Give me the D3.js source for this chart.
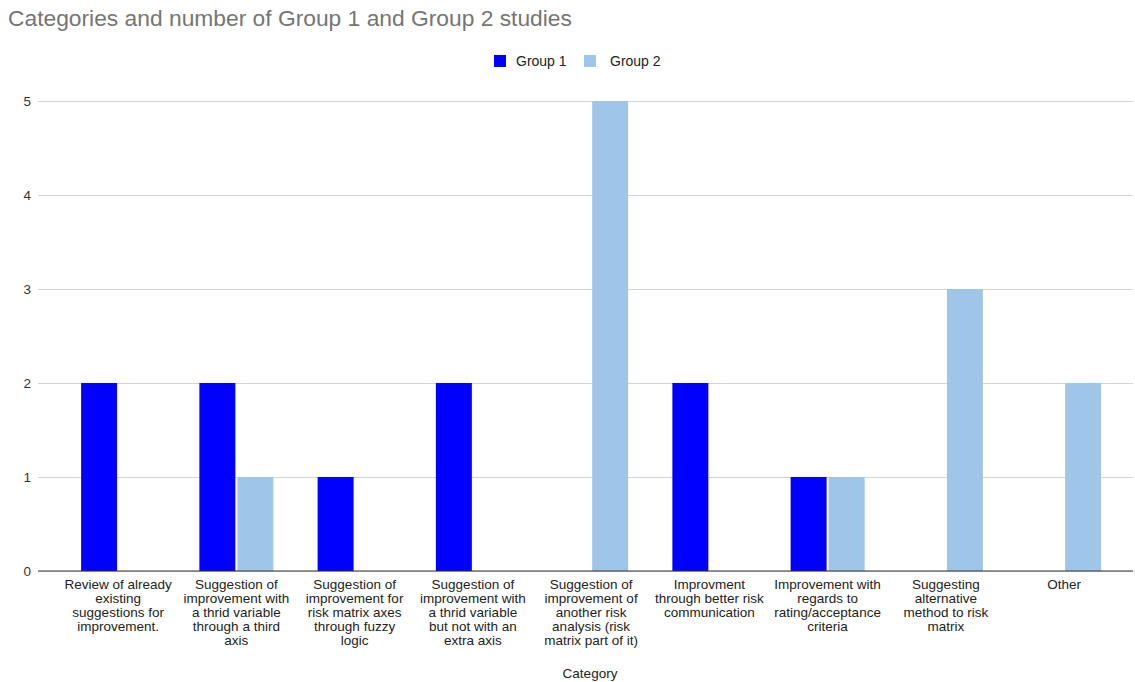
<!DOCTYPE html>
<html><head><meta charset="utf-8">
<script src="https://cdn.jsdelivr.net/npm/d3@7"></script>
<style>body{margin:0;background:#fff;font-family:"Liberation Sans",Arial,sans-serif;}</style>
</head><body><svg id="c" width="1135" height="682"></svg>
<script>
const categories = [
 "Review of already\nexisting\nsuggestions for\nimprovement.",
 "Suggestion of\nimprovement with\na thrid variable\nthrough a third\naxis",
 "Suggestion of\nimprovement for\nrisk matrix axes\nthrough fuzzy\nlogic",
 "Suggestion of\nimprovement with\na thrid variable\nbut not with an\nextra axis",
 "Suggestion of\nimprovement of\nanother risk\nanalysis (risk\nmatrix part of it)",
 "Improvment\nthrough better risk\ncommunication",
 "Improvement with\nregards to\nrating/acceptance\ncriteria",
 "Suggesting\nalternative\nmethod to risk\nmatrix",
 "Other"
];
const group1 = [2, 2, 1, 2, 0, 2, 1, 0, 0];
const group2 = [0, 1, 0, 0, 5, 0, 1, 3, 2];
const seriesNames = ["Group 1", "Group 2"];
const colors = ["#0000ff", "#9fc5e8"];
const yTicks = [0, 1, 2, 3, 4, 5];

const svg = d3.select("#c");
const y = d3.scaleLinear().domain([0, 5]).range([571, 101]);
const x = d3.scaleBand().domain(d3.range(categories.length)).range([59, 1123.25]);
const xs = d3.scaleBand().domain([0, 1]).range([x.bandwidth()/2 - 37, x.bandwidth()/2 + 37]).paddingInner(0.054);

svg.append("text").attr("x", 8).attr("y", 26).attr("font-size", 22.8).attr("fill", "#757575")
  .text("Categories and number of Group 1 and Group 2 studies");

// gridlines
const yAxis = d3.axisLeft(y).tickValues(yTicks).tickSize(-(1133 - 38)).tickFormat(d3.format("d"));
const ga = svg.append("g").attr("transform", "translate(38,0)").call(yAxis);
ga.select(".domain").remove();
ga.selectAll(".tick line").attr("stroke", "#d3d3d3");
ga.selectAll(".tick text").attr("font-size", 13.5).attr("fill", "#333").attr("x", -7)
  .attr("font-family", "Liberation Sans, Arial, sans-serif");

const series = [group1, group2];
series.forEach((vals, si) => {
  svg.append("g").selectAll("rect").data(vals).join("rect")
    .attr("x", (d, i) => x(i) + xs(si))
    .attr("width", xs.bandwidth())
    .attr("y", d => y(d))
    .attr("height", d => y(0) - y(d))
    .attr("fill", colors[si]);
});

// baseline
svg.append("line").attr("x1", 38).attr("x2", 1133).attr("y1", y(0)).attr("y2", y(0))
  .attr("stroke", "#333").attr("stroke-width", 1);

// x labels
const xl = svg.append("g");
categories.forEach((c, i) => {
  const t = xl.append("text").attr("text-anchor", "middle").attr("font-size", 13.5).attr("fill", "#222")
    .attr("x", x(i) + x.bandwidth()/2).attr("y", 589);
  c.split("\n").forEach((ln, k) => {
    t.append("tspan").attr("x", x(i) + x.bandwidth()/2).attr("dy", k === 0 ? 0 : 14).text(ln);
  });
});

svg.append("text").attr("x", 590).attr("y", 678).attr("text-anchor", "middle")
  .attr("font-size", 13.5).attr("fill", "#222").text("Category");

// legend
const leg = svg.append("g");
const legX = [494, 584];
seriesNames.forEach((n, i) => {
  leg.append("rect").attr("x", legX[i]).attr("y", 55).attr("width", 12).attr("height", 12).attr("fill", colors[i]);
  leg.append("text").attr("x", legX[i] + (i === 0 ? 22 : 26)).attr("y", 66).attr("font-size", 14).attr("fill", "#222").text(n);
});
</script></body></html>
